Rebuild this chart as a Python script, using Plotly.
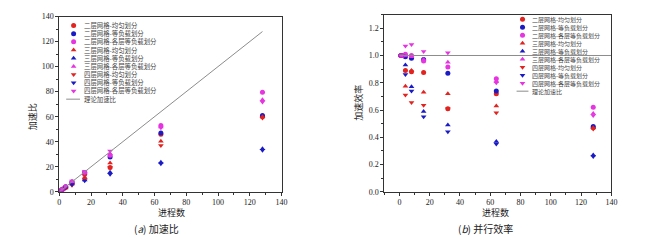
import plotly.graph_objects as go

# ---------------- data ----------------
procs = [1, 2, 4, 8, 16, 32, 64, 128]

series_names = [
    "二层网格-均匀划分", "二层网格-等负载划分", "二层网格-各层等负载划分",
    "三层网格-均匀划分", "三层网格-等负载划分", "三层网格-各层等负载划分",
    "四层网格-均匀划分", "四层网格-等负载划分", "四层网格-各层等负载划分",
]
theory_name = "理论加速比"

# speedup (left panel)
speedup = [
    [1.0, 2.0, 3.6, 7.1, 14.0, 19.5, 46.0, 60.0],
    [1.0, 2.0, 4.0, 7.8, 15.5, 27.8, 47.0, 61.0],
    [1.0, 2.0, 4.0, 7.9, 15.4, 29.3, 53.0, 79.5],
    [1.0, 2.0, 3.1, 7.1, 11.7, 23.0, 40.3, 60.0],
    [1.0, 2.0, 3.7, 6.2, 9.4, 15.7, 23.7, 34.5],
    [1.0, 2.0, 4.0, 7.9, 15.5, 30.4, 51.8, 73.6],
    [1.0, 2.0, 2.8, 5.2, 10.1, 19.5, 37.1, 58.9],
    [1.0, 2.0, 3.4, 5.9, 8.8, 14.1, 22.4, 33.3],
    [1.0, 2.0, 4.3, 8.6, 16.5, 32.6, 51.2, 71.7],
]
# parallel efficiency (right panel)
efficiency = [
    [1.0, 1.0, 0.89, 0.88, 0.875, 0.61, 0.72, 0.47],
    [1.0, 1.0, 0.99, 0.98, 0.97, 0.87, 0.74, 0.48],
    [1.0, 1.0, 1.01, 1.0, 0.96, 0.915, 0.83, 0.62],
    [1.0, 1.0, 0.775, 0.89, 0.73, 0.72, 0.63, 0.47],
    [1.0, 1.0, 0.93, 0.77, 0.59, 0.49, 0.37, 0.27],
    [1.0, 1.0, 1.0, 0.99, 0.97, 0.95, 0.81, 0.575],
    [1.0, 1.0, 0.71, 0.655, 0.635, 0.61, 0.58, 0.46],
    [1.0, 1.0, 0.86, 0.74, 0.55, 0.44, 0.35, 0.26],
    [1.0, 1.0, 1.07, 1.08, 1.03, 1.02, 0.80, 0.56],
]
theory_speedup_x = [0, 128]
theory_speedup_y = [0, 128]
theory_eff_x = [0, 140]
theory_eff_y = [1.0, 1.0]

caption_a = "(<i>a</i>) 加速比"
caption_b = "(<i>b</i>) 并行效率"
x_title = "进程数"
left_y_title = "加速比"
right_y_title = "加速效率"

# ---------------- style ----------------
RED = "#E2231F"
BLUE = "#1B1BC6"
MAG = "#E534E0"
colors = [RED, BLUE, MAG] * 3
symbols = ["circle"] * 3 + ["triangle-up"] * 3 + ["triangle-down"] * 3
MS = 5
CJK = "Noto Sans CJK SC"
SERIF = "Liberation Serif"
AX = "#333333"
GRAY = "#8c8c8c"

W, H = 650, 245
def px_dom_x(a, b):
    return [a / W, b / W]
def px_dom_y(top, bottom):
    return [(H - bottom) / H, (H - top) / H]

fig = go.Figure()

# data traces
for i, name in enumerate(series_names):
    fig.add_trace(go.Scatter(x=procs, y=speedup[i], mode="markers", name=name,
                             marker=dict(symbol=symbols[i], color=colors[i], size=MS, line=dict(width=0)),
                             xaxis="x", yaxis="y", showlegend=False))
fig.add_trace(go.Scatter(x=theory_speedup_x, y=theory_speedup_y, mode="lines", name=theory_name,
                         line=dict(color=GRAY, width=1), xaxis="x", yaxis="y", showlegend=False))
for i, name in enumerate(series_names):
    fig.add_trace(go.Scatter(x=procs, y=efficiency[i], mode="markers", name=name,
                             marker=dict(symbol=symbols[i], color=colors[i], size=MS, line=dict(width=0)),
                             xaxis="x2", yaxis="y2", showlegend=False))
fig.add_trace(go.Scatter(x=theory_eff_x, y=theory_eff_y, mode="lines", name=theory_name,
                         line=dict(color=GRAY, width=1), xaxis="x2", yaxis="y2", showlegend=False))

# manual legends on a pixel overlay axis
def add_legend(mx, tx, y0, dy, fs, lx0, lx1):
    names = series_names + [theory_name]
    ys = [y0 + k * dy for k in range(len(names))]
    for i, name in enumerate(series_names):
        fig.add_trace(go.Scatter(x=[mx], y=[ys[i]], mode="markers", hoverinfo="skip",
                                 marker=dict(symbol=symbols[i], color=colors[i], size=MS, line=dict(width=0)),
                                 xaxis="x3", yaxis="y3", showlegend=False))
    fig.add_trace(go.Scatter(x=[lx0, lx1], y=[ys[-1], ys[-1]], mode="lines", hoverinfo="skip",
                             line=dict(color=GRAY, width=1), xaxis="x3", yaxis="y3", showlegend=False))
    for i, name in enumerate(names):
        fig.add_annotation(x=tx, y=ys[i], xref="x3", yref="y3", text=name,
                           showarrow=False, xanchor="left", yanchor="middle", borderpad=0,
                           font=dict(family=CJK, size=fs, color="#444"))

add_legend(72.5, 82, 22.3, 8.5, 6.4, 65, 79)
add_legend(527, 536, 15.8, 8.3, 6.0, 521, 533)

# titles / captions
def ann(x, y, text, size, angle=0, family=CJK):
    fig.add_annotation(x=x, y=y, xref="x3", yref="y3", text=text, showarrow=False,
                       textangle=angle, xanchor="center", yanchor="middle", borderpad=0,
                       font=dict(family=family, size=size, color="#222"))

ann(172, 216, x_title, 9)
ann(500, 216, x_title, 9)
ann(31, 117, left_y_title, 9, -90)
ann(361, 103, right_y_title, 9, -90)
ann(156, 233, caption_a, 10)
ann(490, 233, caption_b, 10)

axis_common = dict(showline=True, linecolor=AX, linewidth=1, mirror=True, ticks="outside",
                   ticklen=3, tickcolor=AX, tickwidth=1, showgrid=False, zeroline=False,
                   tickfont=dict(family=SERIF, size=8, color="#222"))

fig.update_layout(
    width=W, height=H, margin=dict(l=0, r=0, t=0, b=0),
    paper_bgcolor="white", plot_bgcolor="rgba(0,0,0,0)", showlegend=False,
    xaxis=dict(domain=px_dom_x(58, 283), anchor="y", range=[0, 140], tick0=0, dtick=20,
               minor=dict(dtick=10, ticks="outside", ticklen=2, tickcolor=AX), **axis_common),
    yaxis=dict(domain=px_dom_y(13, 195), anchor="x", range=[0, 140], tick0=0, dtick=20,
               minor=dict(dtick=10, ticks="outside", ticklen=2, tickcolor=AX), **axis_common),
    xaxis2=dict(domain=px_dom_x(387, 617), anchor="y2", range=[-10, 140], tick0=0, dtick=20,
                minor=dict(dtick=10, ticks="outside", ticklen=2, tickcolor=AX), **axis_common),
    yaxis2=dict(domain=px_dom_y(11, 195), anchor="x2", range=[0, 1.3], tick0=0, dtick=0.2,
                tickformat=".1f",
                minor=dict(dtick=0.1, ticks="outside", ticklen=2, tickcolor=AX), **axis_common),
    xaxis3=dict(domain=[0, 1], anchor="y3", range=[0, W], visible=False, fixedrange=True),
    yaxis3=dict(domain=[0, 1], anchor="x3", range=[H, 0], visible=False, fixedrange=True),
)

fig.write_html("out.html", config={"displayModeBar": False},
               post_script="document.body.style.margin='0px';document.body.style.overflow='hidden';")
